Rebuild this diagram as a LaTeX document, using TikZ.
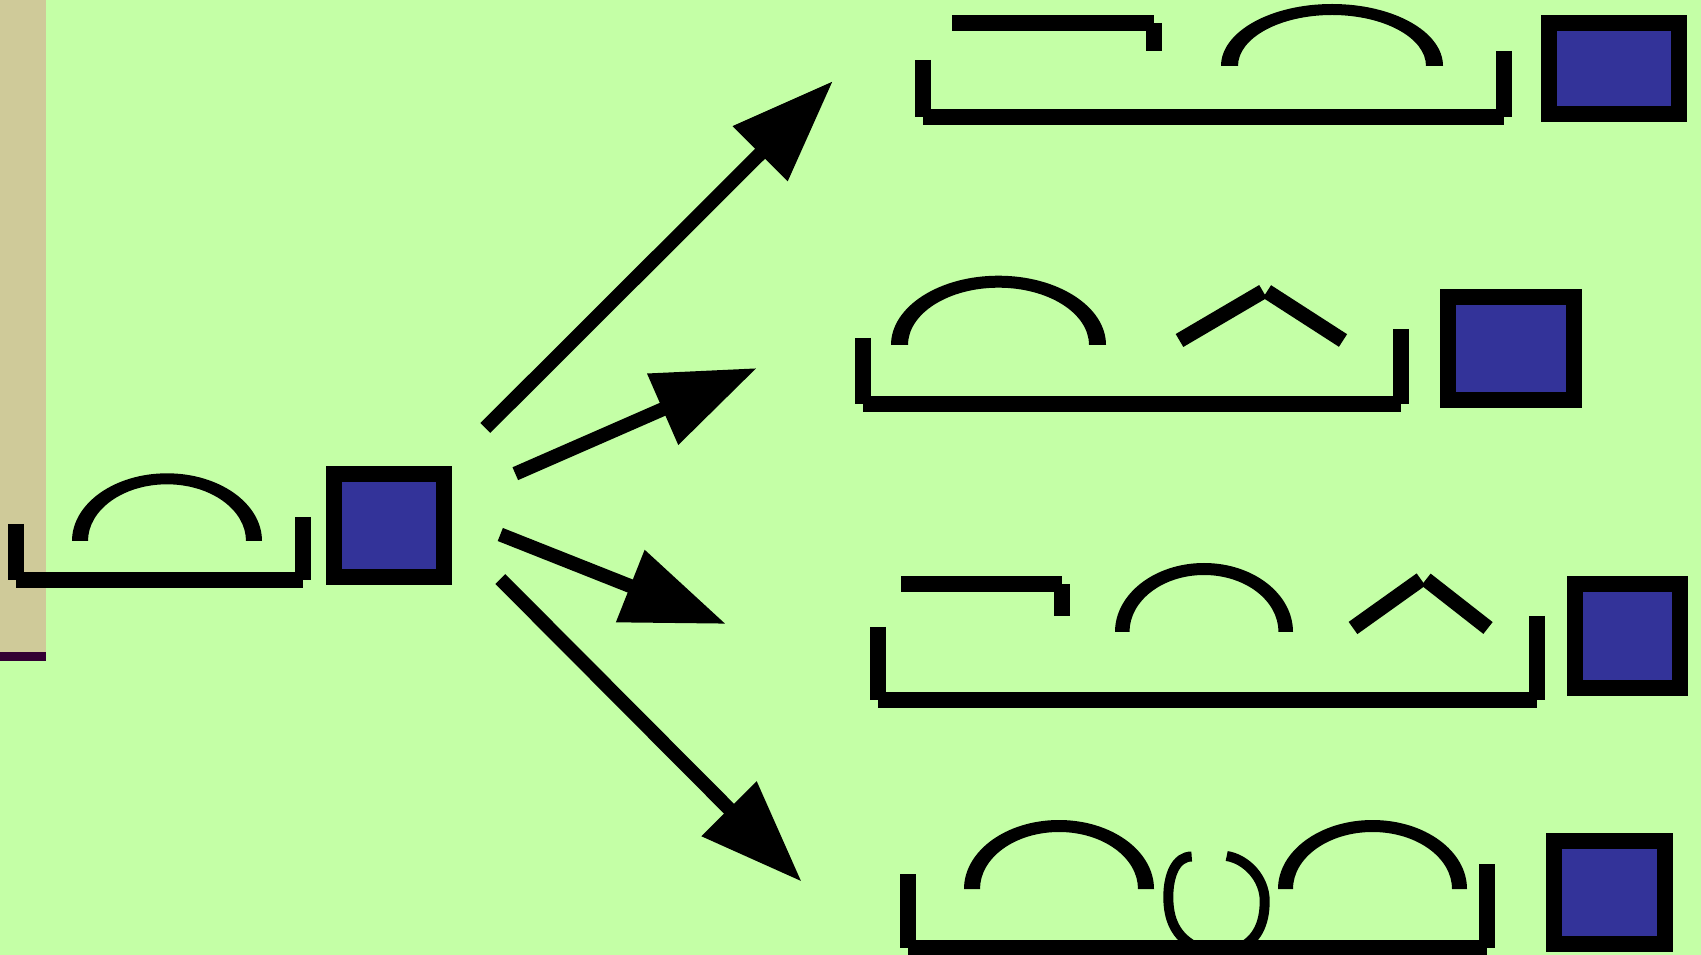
\documentclass[tikz,border=0pt]{standalone}
\usepackage{tikz}
\usetikzlibrary{arrows.meta}

\definecolor{bggreen}{RGB}{196,255,166}
\definecolor{stripbeige}{RGB}{207,202,153}
\definecolor{boxblue}{RGB}{51,51,153}
\definecolor{darkplum}{RGB}{51,0,51}

\tikzset{
  bar/.style={line width=1.6mm},
  roof/.style={line width=1.5mm},
  ringpart/.style={line width=1mm},
  boxsq/.style={line width=1.6mm, fill=boxblue},
  fanarrow/.style={line width=1.4mm, -{Triangle[length=10.3mm,width=7.4mm]}}
}

\begin{document}
\begin{tikzpicture}[x=0.1mm,y=0.1mm]
\useasboundingbox (0,0) rectangle (1701,-955);
\fill[bggreen] (0,0) rectangle (1701,-955);
\fill[stripbeige] (0,0) rectangle (46,-652);
\fill[darkplum] (0,-652) rectangle (46,-661);
%
% left group
\draw[bar] (16,-524)--(16,-580);
\draw[bar] (16,-580)--(303,-580);
\draw[bar] (303,-517)--(303,-580);
\fill (72,-541) arc[start angle=180,end angle=0,x radius=95,y radius=67.7]
  -- (246,-541) arc[start angle=0,end angle=180,x radius=79,y radius=56.7] -- cycle;
\draw[boxsq] (334,-474) rectangle (444,-577);
%
% arrows
\coordinate (src1) at (485.3,-428);
\coordinate (dst1) at (833,-81);
\coordinate (src2) at (515.3,-473.7);
\coordinate (dst2) at (757,-368);
\coordinate (src3) at (500.3,-534.5);
\coordinate (dst3) at (726,-624);
\coordinate (src4) at (500.3,-579);
\coordinate (dst4) at (801.7,-881.7);
\draw[fanarrow] (src1) -- (dst1);
\draw[fanarrow] (src2) -- (dst2);
\draw[fanarrow] (src3) -- (dst3);
\draw[fanarrow] (src4) -- (dst4);
%
% row 1
\draw[bar] (952,-23)--(1154,-23);
\draw[bar] (1154,-23)--(1154,-51);
\fill (1221,-66) arc[start angle=180,end angle=0,x radius=111,y radius=62]
  -- (1426,-66) arc[start angle=0,end angle=180,x radius=94,y radius=51] -- cycle;
\draw[bar] (923,-60)--(923,-117.5);
\draw[bar] (923,-117.5)--(1504,-117.5);
\draw[bar] (1504,-51)--(1504,-117.5);
\draw[boxsq] (1549,-23) rectangle (1679,-114);
%
% row 2
\fill (891,-345) arc[start angle=180,end angle=0,x radius=107.5,y radius=69.3]
  -- (1089,-345) arc[start angle=0,end angle=180,x radius=90.5,y radius=57.3] -- cycle;
\draw[roof] (1179.5,-340.5)--(1263,-291.5);
\draw[roof] (1267,-291.5)--(1343,-340.5);
\draw[bar] (862.5,-338)--(862.5,-404);
\draw[bar] (862.5,-404)--(1401,-404);
\draw[bar] (1401,-329)--(1401,-404);
\draw[boxsq] (1448,-297) rectangle (1573.7,-400);
%
% row 3
\draw[bar] (901,-584)--(1062,-584);
\draw[bar] (1062,-584)--(1062,-616);
\fill (1115,-632) arc[start angle=180,end angle=0,x radius=89,y radius=69]
  -- (1278.5,-632) arc[start angle=0,end angle=180,x radius=74.5,y radius=57] -- cycle;
\draw[roof] (1353,-628)--(1421,-579.5);
\draw[roof] (1426,-579.5)--(1488,-628);
\draw[bar] (878,-627)--(878,-700);
\draw[bar] (878,-700)--(1537,-700);
\draw[bar] (1537,-616)--(1537,-700);
\draw[boxsq] (1575,-584) rectangle (1680,-688);
%
% row 4
\fill (964,-889) arc[start angle=180,end angle=0,x radius=95,y radius=69]
  -- (1138,-889) arc[start angle=0,end angle=180,x radius=79,y radius=57] -- cycle;
\fill (1278,-889) arc[start angle=180,end angle=0,x radius=94.5,y radius=69]
  -- (1452,-889) arc[start angle=0,end angle=180,x radius=79.5,y radius=57] -- cycle;
\draw[ringpart] (1191.7,-856.5) .. controls (1176,-856.5) and (1168.3,-875) .. (1168.3,-897)
  .. controls (1168.3,-920) and (1176,-936) .. (1194,-946);
\draw[ringpart] (1226.7,-856) .. controls (1246,-859) and (1264.7,-878) .. (1264.7,-901)
  .. controls (1264.7,-925) and (1256,-940) .. (1240,-948);
\draw[bar] (908,-874)--(908,-948);
\draw[bar] (908,-948)--(1487,-948);
\draw[bar] (1487,-864)--(1487,-948);
\draw[boxsq] (1553.6,-841) rectangle (1664.8,-944);
\end{tikzpicture}
\end{document}
